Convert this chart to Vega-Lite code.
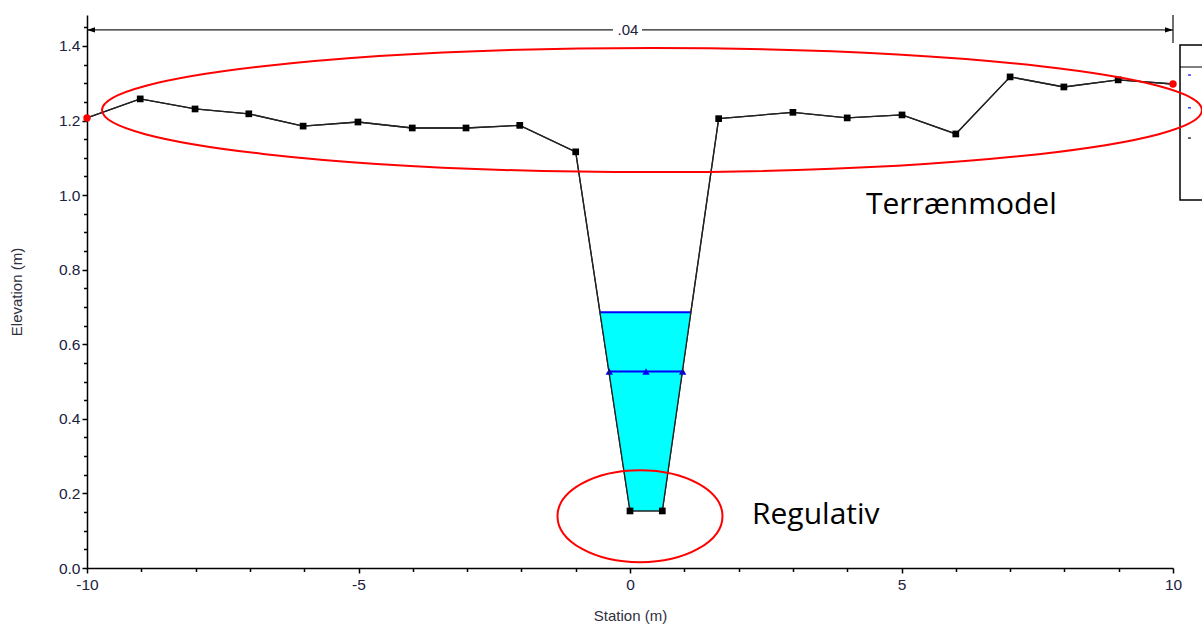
{
  "$schema": "https://vega.github.io/schema/vega-lite/v6.json",
  "width": 1086,
  "height": 553,
  "autosize": {"type": "none"},
  "padding": {"left": 87, "top": 15, "right": 29, "bottom": 56},
  "background": "white",
  "config": {
    "view": {"stroke": null},
    "axis": {
      "domainColor": "#000000",
      "domainWidth": 1.5,
      "tickColor": "#000000",
      "tickWidth": 1.5,
      "grid": false,
      "labelFont": "Liberation Sans",
      "labelFontSize": 15.5,
      "labelColor": "#202040",
      "titleFont": "Liberation Sans",
      "titleFontSize": 15,
      "titleFontWeight": "normal",
      "titleColor": "#303040"
    }
  },
  "resolve": {"axis": {"x": "independent", "y": "independent"}},
  "datasets": {
    "terrain": [
      {"i": 0, "station": -10.0, "elev": 1.207},
      {"i": 1, "station": -9.02, "elev": 1.258},
      {"i": 2, "station": -8.01, "elev": 1.231},
      {"i": 3, "station": -7.02, "elev": 1.218},
      {"i": 4, "station": -6.02, "elev": 1.185},
      {"i": 5, "station": -5.01, "elev": 1.196},
      {"i": 6, "station": -4.01, "elev": 1.180},
      {"i": 7, "station": -3.02, "elev": 1.180},
      {"i": 8, "station": -2.03, "elev": 1.187},
      {"i": 9, "station": -1.0, "elev": 1.116},
      {"i": 10, "station": 0.0, "elev": 0.153},
      {"i": 11, "station": 0.595, "elev": 0.153},
      {"i": 12, "station": 1.633, "elev": 1.205},
      {"i": 13, "station": 3.0, "elev": 1.222},
      {"i": 14, "station": 4.0, "elev": 1.207},
      {"i": 15, "station": 5.01, "elev": 1.215},
      {"i": 16, "station": 6.0, "elev": 1.164},
      {"i": 17, "station": 7.0, "elev": 1.317},
      {"i": 18, "station": 7.99, "elev": 1.290},
      {"i": 19, "station": 8.99, "elev": 1.309},
      {"i": 20, "station": 10.0, "elev": 1.298}
    ]
  },
  "layer": [
    {
      "data": {"name": "terrain"},
      "mark": {"type": "line", "color": "#222222", "strokeWidth": 1.3},
      "encoding": {
        "x": {
          "field": "station",
          "type": "quantitative",
          "title": "Station (m)",
          "scale": {"domain": [-10, 10], "nice": false, "zero": false},
          "axis": {
            "orient": "bottom",
            "values": [-10, -5, 0, 5, 10],
            "labelExpr": "replace(datum.label, '\u2212', '-')",
            "tickSize": 5,
            "labelPadding": 4,
            "labelFlush": false,
            "labelOverlap": false,
            "titlePadding": 16
          }
        },
        "y": {
          "field": "elev",
          "type": "quantitative",
          "title": "Elevation (m)",
          "scale": {"domain": [0, 1.483], "nice": false, "zero": false},
          "axis": {
            "orient": "left",
            "values": [0, 0.2, 0.4, 0.6, 0.8, 1.0, 1.2, 1.4],
            "format": ".1f",
            "tickSize": 5,
            "labelPadding": 2,
            "labelFlush": false,
            "labelOverlap": false,
            "titlePadding": 34
          }
        },
        "order": {"field": "i", "type": "quantitative"}
      }
    },
    {
      "data": {"name": "terrain"},
      "mark": {"type": "point", "opacity": 0},
      "encoding": {
        "x": {
          "field": "station",
          "type": "quantitative",
          "axis": {
            "orient": "bottom",
            "values": [-9, -8, -7, -6, -4, -3, -2, -1, 1, 2, 3, 4, 6, 7, 8, 9],
            "labels": false,
            "domain": false,
            "title": null,
            "tickSize": 3.5
          }
        },
        "y": {
          "field": "elev",
          "type": "quantitative",
          "axis": {
            "orient": "left",
            "values": [0.05, 0.1, 0.15, 0.25, 0.3, 0.35, 0.45, 0.5, 0.55, 0.65, 0.7, 0.75, 0.85, 0.9, 0.95, 1.05, 1.1, 1.15, 1.25, 1.3, 1.35, 1.45],
            "labels": false,
            "domain": false,
            "title": null,
            "tickSize": 3.5
          }
        }
      }
    },
    {
      "data": {"values": [
        {"station": 10.129, "station2": 10.8, "elev": 0.987, "elev2": 1.4025}
      ]},
      "mark": {"type": "rect", "fill": null, "stroke": "#000000", "strokeWidth": 1.5},
      "encoding": {
        "x": {"field": "station", "type": "quantitative", "axis": null},
        "x2": {"field": "station2"},
        "y": {"field": "elev", "type": "quantitative", "axis": null},
        "y2": {"field": "elev2"}
      }
    },
    {
      "data": {"values": [
        {"station": 10.129, "station2": 10.8, "elev": 1.3435, "c": "k"},
        {"station": 10.276, "station2": 10.33, "elev": 1.322, "c": "b"},
        {"station": 10.276, "station2": 10.33, "elev": 1.234, "c": "b"},
        {"station": 10.276, "station2": 10.33, "elev": 1.153, "c": "k"}
      ]},
      "mark": {"type": "rule", "strokeWidth": 1.2},
      "encoding": {
        "x": {"field": "station", "type": "quantitative", "axis": null},
        "x2": {"field": "station2"},
        "y": {"field": "elev", "type": "quantitative", "axis": null},
        "color": {"field": "c", "type": "nominal", "scale": {"domain": ["k", "b"], "range": ["#000000", "#0000ff"]}, "legend": null}
      }
    },
    {
      "data": {"values": [
        {"elev": 0.153, "station": 0.0, "station2": 0.595},
        {"elev": 0.686, "station": -0.55, "station2": 1.119}
      ]},
      "mark": {"type": "area", "orient": "horizontal", "color": "#00ffff", "opacity": 1},
      "encoding": {
        "y": {"field": "elev", "type": "quantitative", "axis": null},
        "x": {"field": "station", "type": "quantitative", "axis": null},
        "x2": {"field": "station2"}
      }
    },
    {
      "data": {"values": [
        {"station": -0.55, "station2": 1.119, "elev": 0.686},
        {"station": -0.40, "station2": 0.98, "elev": 0.527}
      ]},
      "mark": {"type": "rule", "color": "#0000ff", "strokeWidth": 2},
      "encoding": {
        "x": {"field": "station", "type": "quantitative", "axis": null},
        "x2": {"field": "station2"},
        "y": {"field": "elev", "type": "quantitative", "axis": null}
      }
    },
    {
      "data": {"values": [
        {"station": -0.381, "elev": 0.527},
        {"station": 0.295, "elev": 0.527},
        {"station": 0.970, "elev": 0.527}
      ]},
      "mark": {"type": "point", "shape": "triangle-up", "filled": true, "color": "#0000ff", "size": 55, "opacity": 1},
      "encoding": {
        "x": {"field": "station", "type": "quantitative", "axis": null},
        "y": {"field": "elev", "type": "quantitative", "axis": null}
      }
    },
    {
      "data": {"name": "terrain"},
      "mark": {"type": "line", "color": "#222222", "strokeWidth": 1.3},
      "encoding": {
        "x": {"field": "station", "type": "quantitative", "axis": null},
        "y": {"field": "elev", "type": "quantitative", "axis": null},
        "order": {"field": "i", "type": "quantitative"}
      }
    },
    {
      "data": {"name": "terrain"},
      "transform": [{"filter": "datum.i > 0 && datum.i < 20"}],
      "mark": {"type": "point", "shape": "square", "filled": true, "color": "#000000", "size": 45, "opacity": 1},
      "encoding": {
        "x": {"field": "station", "type": "quantitative", "axis": null},
        "y": {"field": "elev", "type": "quantitative", "axis": null}
      }
    },
    {
      "data": {"name": "terrain"},
      "transform": [{"filter": "datum.i === 0 || datum.i === 20"}],
      "mark": {"type": "point", "shape": "circle", "filled": true, "color": "#ff0000", "size": 55, "opacity": 1},
      "encoding": {
        "x": {"field": "station", "type": "quantitative", "axis": null},
        "y": {"field": "elev", "type": "quantitative", "axis": null}
      }
    },
    {
      "data": {"values": [
        {"station": -10, "station2": -0.313, "elev": 1.443},
        {"station": 0.221, "station2": 10, "elev": 1.443}
      ]},
      "mark": {"type": "rule", "color": "#222222", "strokeWidth": 1.3},
      "encoding": {
        "x": {"field": "station", "type": "quantitative", "axis": null},
        "x2": {"field": "station2"},
        "y": {"field": "elev", "type": "quantitative", "axis": null}
      }
    },
    {
      "data": {"values": [
        {"station": 10, "elev": 1.408, "elev2": 1.483}
      ]},
      "mark": {"type": "rule", "color": "#222222", "strokeWidth": 1.3},
      "encoding": {
        "x": {"field": "station", "type": "quantitative", "axis": null},
        "y": {"field": "elev", "type": "quantitative", "axis": null},
        "y2": {"field": "elev2"}
      }
    },
    {
      "data": {"values": [{"station": -10, "elev": 1.443}]},
      "mark": {"type": "point", "shape": "M 0 0 L 2 -0.65 L 2 0.65 Z", "filled": true, "color": "#000000", "size": 64, "opacity": 1},
      "encoding": {
        "x": {"field": "station", "type": "quantitative", "axis": null},
        "y": {"field": "elev", "type": "quantitative", "axis": null}
      }
    },
    {
      "data": {"values": [{"station": 10, "elev": 1.443}]},
      "mark": {"type": "point", "shape": "M 0 0 L -2 -0.65 L -2 0.65 Z", "filled": true, "color": "#000000", "size": 64, "opacity": 1},
      "encoding": {
        "x": {"field": "station", "type": "quantitative", "axis": null},
        "y": {"field": "elev", "type": "quantitative", "axis": null}
      }
    },
    {
      "data": {"values": [{"station": -0.037, "elev": 1.443, "label": ".04"}]},
      "mark": {"type": "text", "font": "Liberation Sans", "fontSize": 15, "color": "#202040", "align": "center", "baseline": "middle"},
      "encoding": {
        "x": {"field": "station", "type": "quantitative", "axis": null},
        "y": {"field": "elev", "type": "quantitative", "axis": null},
        "text": {"field": "label"}
      }
    },
    {
      "data": {"values": [{"station": 0.405, "elev": 1.228}]},
      "mark": {"type": "point", "shape": "M -1 0 C -1 -0.0622 -0.5523 -0.1127 0 -0.1127 C 0.5523 -0.1127 1 -0.0622 1 0 C 1 0.0622 0.5523 0.1127 0 0.1127 C -0.5523 0.1127 -1 0.0622 -1 0 Z", "filled": false, "stroke": "#ff0000", "strokeWidth": 2, "size": 1210000, "opacity": 1},
      "encoding": {
        "x": {"field": "station", "type": "quantitative", "axis": null},
        "y": {"field": "elev", "type": "quantitative", "axis": null}
      }
    },
    {
      "data": {"values": [{"station": 0.184, "elev": 0.139}]},
      "mark": {"type": "point", "shape": "M -1 0 C -1 -0.308 -0.5523 -0.5576 0 -0.5576 C 0.5523 -0.5576 1 -0.308 1 0 C 1 0.308 0.5523 0.5576 0 0.5576 C -0.5523 0.5576 -1 0.308 -1 0 Z", "filled": false, "stroke": "#ff0000", "strokeWidth": 2, "size": 27225, "opacity": 1},
      "encoding": {
        "x": {"field": "station", "type": "quantitative", "axis": null},
        "y": {"field": "elev", "type": "quantitative", "axis": null}
      }
    },
    {
      "data": {"values": [
        {"station": 4.346, "elev": 0.949, "label": "Terrænmodel"},
        {"station": 2.247, "elev": 0.118, "label": "Regulativ"}
      ]},
      "mark": {"type": "text", "font": "Open Sans", "fontSize": 30, "color": "#000000", "align": "left", "baseline": "alphabetic"},
      "encoding": {
        "x": {"field": "station", "type": "quantitative", "axis": null},
        "y": {"field": "elev", "type": "quantitative", "axis": null},
        "text": {"field": "label"}
      }
    }
  ]
}
